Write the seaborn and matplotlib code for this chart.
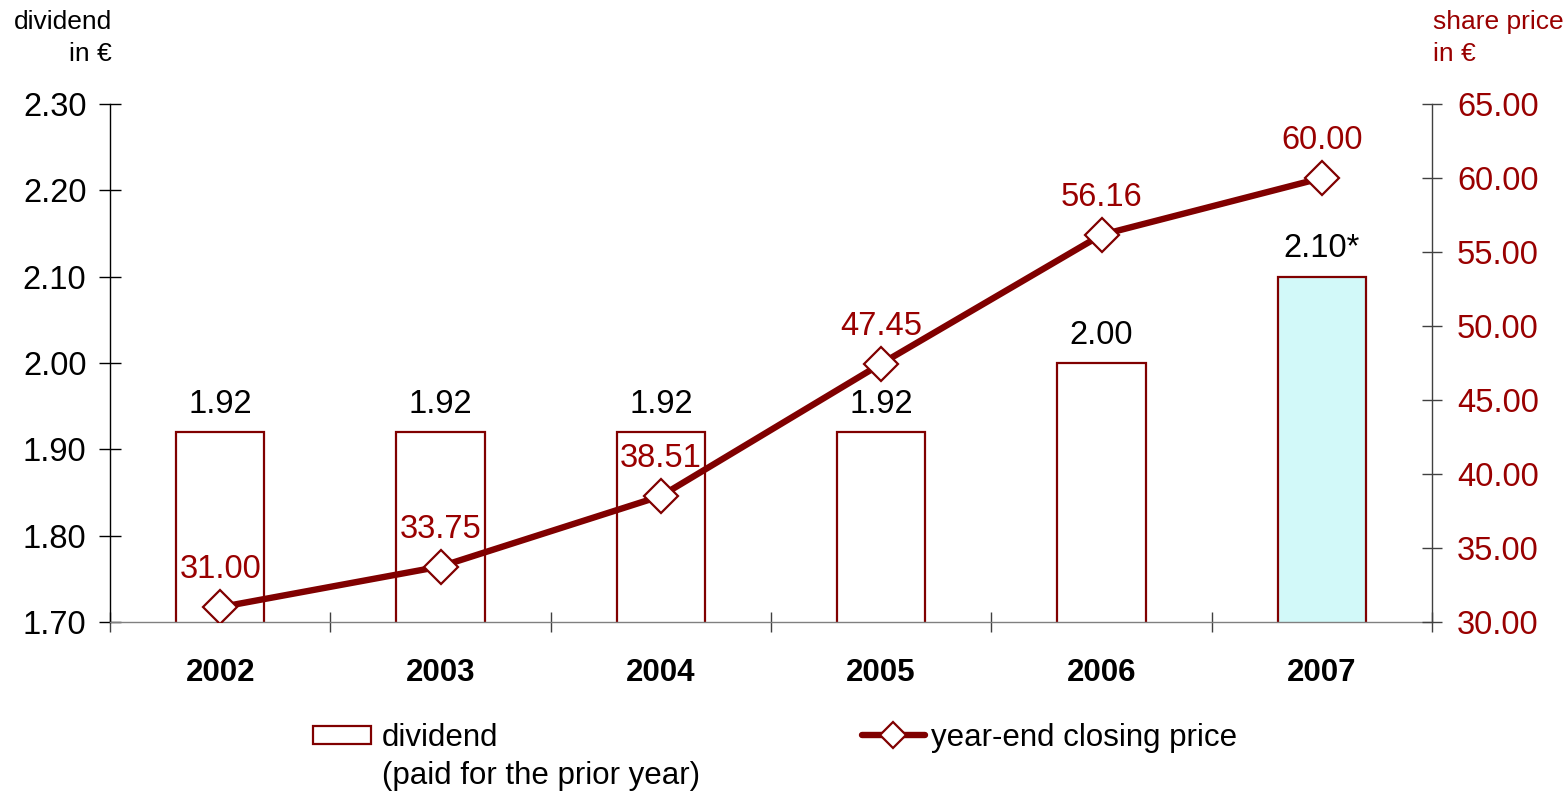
import matplotlib
matplotlib.use("Agg")
import matplotlib.pyplot as plt
from matplotlib.lines import Line2D
from matplotlib.patches import Patch
from matplotlib.ticker import FixedLocator, FuncFormatter
import numpy as np
import pandas as pd
import seaborn as sns

# Data
years = ["2002", "2003", "2004", "2005", "2006", "2007"]
dividend = [1.92, 1.92, 1.92, 1.92, 2.00, 2.10]
dividend_labels = ["1.92", "1.92", "1.92", "1.92", "2.00", "2.10*"]
share_price = [31.00, 33.75, 38.51, 47.45, 56.16, 60.00]

MAROON = "#800000"
LABEL_RED = "#990000"
bar_fill = {"2002": "white", "2003": "white", "2004": "white",
            "2005": "white", "2006": "white", "2007": "#CCFFFF"}

sns.set_theme(style="white")
plt.rcParams["font.family"] = ["Liberation Sans", "DejaVu Sans"]
plt.rcParams["text.color"] = "black"
plt.rcParams["xtick.color"] = "black"
plt.rcParams["ytick.color"] = "black"
plt.rcParams["xtick.labelcolor"] = "black"
plt.rcParams["ytick.labelcolor"] = "black"

df = pd.DataFrame({"year": years, "dividend": dividend, "price": share_price})

fig = plt.figure(figsize=(15.65, 7.93), dpi=100)
ax = fig.add_axes([110 / 1565, 1 - 622 / 793, (1432 - 110) / 1565, (622 - 104) / 793])

sns.barplot(data=df, x="year", y="dividend", hue="year", palette=bar_fill,
            order=years, width=0.4, edgecolor=MAROON, linewidth=1.6,
            legend=False, ax=ax, zorder=2)
ax.set_ylim(1.70, 2.30)
ax.set_xlim(-0.5, 5.5)

ax2 = ax.twinx()
sns.pointplot(data=df, x="year", y="price", order=years, color=MAROON,
              markers="D", markersize=17, linewidth=4.6, ax=ax2, zorder=3)
for ln in ax2.lines:
    ln.set_markerfacecolor("white")
    ln.set_markeredgecolor(MAROON)
    ln.set_markeredgewidth(1.6)
ax2.set_ylim(30, 65)
ax2.set_xlim(-0.5, 5.5)

# Value labels
for i, (v, lab) in enumerate(zip(dividend, dividend_labels)):
    ax.annotate(lab, (i, v), xytext=(0, 20), textcoords="offset points",
                ha="center", va="center", fontsize=23.5, color="black", zorder=5)
for i, p in enumerate(share_price):
    ax2.annotate(f"{p:.2f}", (i, p), xytext=(0, 27), textcoords="offset points",
                 ha="center", va="center", fontsize=23.5, color=LABEL_RED, zorder=5)

# Left axis
ax.set_yticks(np.arange(1.70, 2.301, 0.10))
ax.yaxis.set_major_formatter(FuncFormatter(lambda v, _: f"{v:.2f}"))
ax.tick_params(axis="y", direction="inout", length=16, width=1, color="black",
               labelsize=23.5, labelcolor="black", pad=9, left=True, labelleft=True)
ax.set_ylabel("")
ax.set_xlabel("")

# Category axis: labels at bar centres, ticks at category borders
ax.set_xticks(range(len(years)))
ax.set_xticklabels(years, fontsize=22.5, fontweight="bold", color="black")
ax.tick_params(axis="x", which="major", length=0, pad=26)
ax.xaxis.set_minor_locator(FixedLocator(np.arange(-0.5, 5.6, 1.0)))
ax.tick_params(axis="x", which="minor", direction="inout", length=14, width=1,
               color="#404040", bottom=True)

# Right axis
ax2.set_yticks(np.arange(30, 65.1, 5))
ax2.yaxis.set_major_formatter(FuncFormatter(lambda v, _: f"{v:.2f}"))
ax2.tick_params(axis="y", direction="inout", length=14, width=1, color="#404040",
                labelsize=23.5, labelcolor=LABEL_RED, pad=11, right=True, labelright=True)
ax2.set_ylabel("")
ax2.set_xlabel("")
ax2.set_xticks(range(len(years)))
ax2.tick_params(axis="x", length=0)

for a in (ax, ax2):
    a.spines["top"].set_visible(False)
    a.grid(False)
ax.spines["left"].set_color("black")
ax.spines["bottom"].set_color("#808080")
ax.spines["right"].set_visible(False)
ax2.spines["left"].set_visible(False)
ax2.spines["bottom"].set_visible(False)
ax2.spines["right"].set_color("#404040")
for a in (ax, ax2):
    for s in a.spines.values():
        s.set_linewidth(1.0)

# Axis titles
fig.text(112 / 1565, 1 - 22 / 793, "dividend", ha="right", va="center",
         fontsize=19, color="black")
fig.text(112 / 1565, 1 - 54 / 793, "in €", ha="right", va="center",
         fontsize=19, color="black")
fig.text(1433 / 1565, 1 - 22 / 793, "share price", ha="left", va="center",
         fontsize=19, color=LABEL_RED)
fig.text(1433 / 1565, 1 - 54 / 793, "in €", ha="left", va="center",
         fontsize=19, color=LABEL_RED)

# Legend
h_bar = Patch(facecolor="white", edgecolor=MAROON, linewidth=1.6)
h_line = Line2D([], [], color=MAROON, linewidth=4.6, marker="D", markersize=13,
                markerfacecolor="white", markeredgecolor=MAROON, markeredgewidth=1.6)
fig.legend([h_bar], ["dividend"], loc="center left",
           bbox_to_anchor=(313 / 1565, 1 - 738 / 793), frameon=False,
           borderpad=0, borderaxespad=0, labelcolor="black",
           fontsize=22.5, handlelength=1.86, handleheight=0.5, handletextpad=0.35)
fig.text(382 / 1565, 1 - 776 / 793, "(paid for the prior year)", ha="left",
         va="center", fontsize=22.5, color="black")
fig.legend([h_line], ["year-end closing price"], loc="center left",
           bbox_to_anchor=(862 / 1565, 1 - 738 / 793), frameon=False,
           borderpad=0, borderaxespad=0, labelcolor="black",
           fontsize=22.5, handlelength=2.0, handletextpad=0.22)

fig.savefig("out.png", dpi=100)
